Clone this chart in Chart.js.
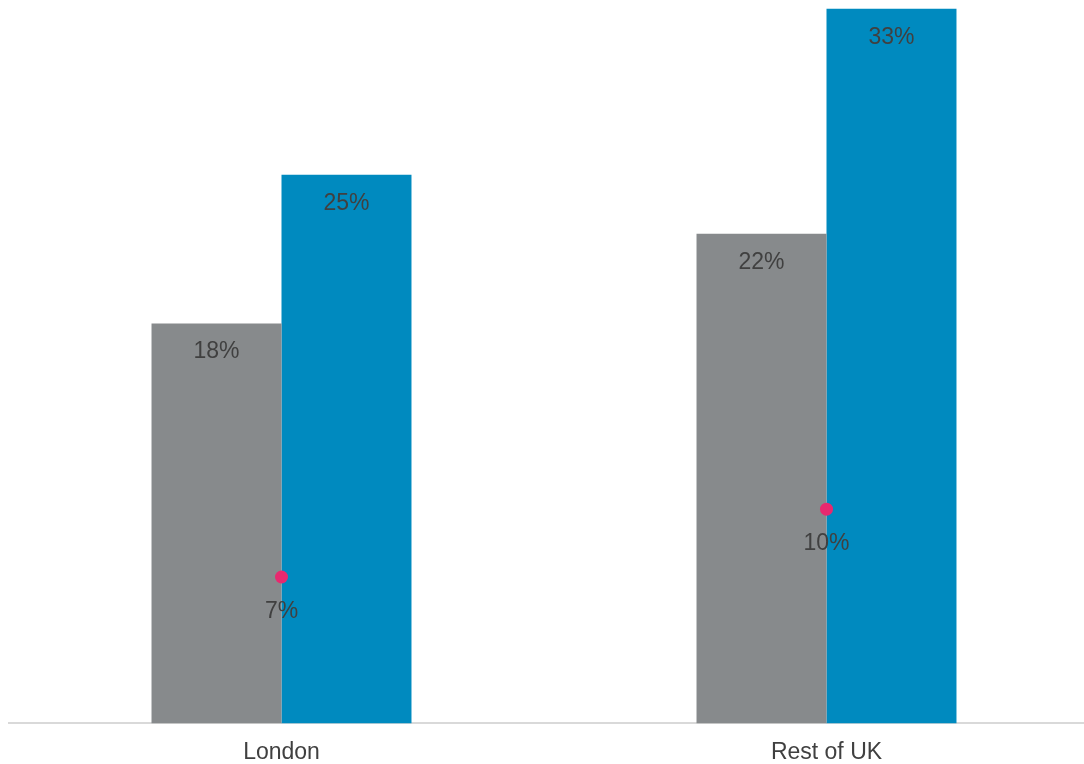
<!DOCTYPE html>
<html>
<head>
<meta charset="utf-8">
<script src="https://cdn.jsdelivr.net/npm/chart.js@4"></script>
<style>
  html, body { margin: 0; padding: 0; background: #fff; overflow: hidden; }
  #chart { display: block; }
</style>
</head>
<body>
<!-- a bit wider than the window: the plot area runs past the right edge, like the original -->
<canvas id="chart" width="1099" height="764"></canvas>
<script>
// values (percent)
const categories = ['London', 'Rest of UK'];
const greyValues = [18.3, 22.4];
const blueValues = [25.1, 32.7];
const dotValues = [6.7, 9.8];

const textColor = '#404040';
const fontFamily = '"Liberation Sans", Arial, sans-serif';

// draws the "xx%" labels under each bar top and under each dot
const valueLabels = {
  id: 'valueLabels',
  afterDatasetsDraw(chart) {
    const ctx = chart.ctx;
    ctx.save();
    ctx.font = '23px ' + fontFamily;
    ctx.fillStyle = textColor;
    ctx.textAlign = 'center';
    ctx.textBaseline = 'alphabetic';
    chart.data.datasets.forEach((ds, i) => {
      const meta = chart.getDatasetMeta(i);
      const offset = ds.type === 'line' ? 41 : 35;
      meta.data.forEach((el, j) => {
        ctx.fillText(Math.round(ds.data[j]) + '%', el.x, el.y + offset);
      });
    });
    ctx.restore();
  }
};

new Chart(document.getElementById('chart'), {
  type: 'bar',
  data: {
    labels: categories,
    datasets: [{
      type: 'line',
      label: 'Dot',
      data: dotValues,
      showLine: false,
      pointRadius: 6.5,
      pointHoverRadius: 6.5,
      pointBackgroundColor: '#e8296f',
      pointBorderWidth: 0,
      borderColor: '#e8296f',
      order: 0
    }, {
      label: 'Grey',
      data: greyValues,
      backgroundColor: '#878a8c',
      borderWidth: 0,
      order: 1
    }, {
      label: 'Blue',
      data: blueValues,
      backgroundColor: '#008abf',
      borderWidth: 0,
      order: 1
    }]
  },
  options: {
    responsive: false,
    animation: false,
    datasets: {
      bar: { categoryPercentage: 0.477, barPercentage: 1 }
    },
    layout: { autoPadding: false, padding: { left: 9, right: 0, top: 0, bottom: -17 } },
    plugins: {
      legend: { display: false },
      tooltip: { enabled: false }
    },
    scales: {
      x: {
        grid: { display: false, drawTicks: false },
        border: { display: true, color: '#d9d9d9', width: 2 },
        ticks: {
          color: textColor,
          padding: 15,
          font: { family: fontFamily, size: 23 }
        }
      },
      y: {
        display: false,
        min: 0,
        max: 33.1
      }
    }
  },
  plugins: [valueLabels]
});
</script>
</body>
</html>
